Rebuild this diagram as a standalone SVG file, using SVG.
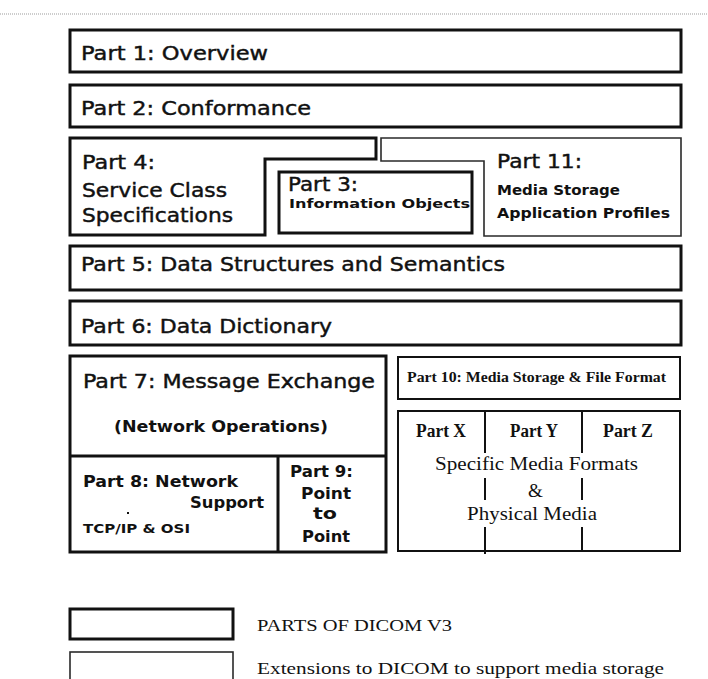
<svg xmlns="http://www.w3.org/2000/svg" width="708" height="679" viewBox="0 0 708 679">
  <style>
    .thick { fill: none; stroke: #111; stroke-width: 3; }
    .thin { fill: none; stroke: #2a2a2a; stroke-width: 1.6; }
    .div { fill: none; stroke: #111; stroke-width: 2; }
    .big { font-family: "DejaVu Sans", "Liberation Sans", sans-serif; font-size: 20px; fill: #111; stroke: #111; stroke-width: 0.45; }
    .sb { font-family: "DejaVu Sans", "Liberation Sans", sans-serif; font-weight: bold; fill: #111; }
    .serif { font-family: "Liberation Serif", "Times New Roman", serif; fill: #111; }
    .serifb { font-family: "Liberation Serif", "Times New Roman", serif; font-weight: bold; fill: #111; }
  </style>
  <rect width="708" height="679" fill="#fff"/>
  <!-- page rule -->
  <line x1="0" y1="14" x2="708" y2="14" stroke="#bdbdbd" stroke-width="1.5" stroke-dasharray="1 1"/>

  <g id="part1">
    <rect class="thick" x="70" y="30" width="611" height="42"/>
    <text class="big" x="81" y="60" textLength="187" lengthAdjust="spacingAndGlyphs">Part 1: Overview</text>
  </g>

  <g id="part2">
    <rect class="thick" x="70" y="85" width="611" height="42"/>
    <text class="big" x="81" y="115" textLength="230" lengthAdjust="spacingAndGlyphs">Part 2: Conformance</text>
  </g>

  <g id="part4">
    <path class="thick" d="M70,138 H376 V159 H265 V235 H70 Z"/>
    <text class="big" x="82" y="169" textLength="73" lengthAdjust="spacingAndGlyphs">Part 4:</text>
    <text class="big" x="82" y="197" textLength="145" lengthAdjust="spacingAndGlyphs">Service Class</text>
    <text class="big" x="82" y="222" textLength="151" lengthAdjust="spacingAndGlyphs">Specifications</text>
  </g>

  <g id="part11">
    <path class="thin" d="M381,161 V138 H681 V236 H484 V161 Z"/>
    <text class="big" x="497" y="168" textLength="85" lengthAdjust="spacingAndGlyphs">Part 11:</text>
    <text class="sb" x="497" y="195" font-size="14" textLength="123" lengthAdjust="spacingAndGlyphs">Media Storage</text>
    <text class="sb" x="497" y="218" font-size="14" textLength="173" lengthAdjust="spacingAndGlyphs">Application Profiles</text>
  </g>

  <g id="part3">
    <rect class="thick" x="279" y="172" width="193" height="61"/>
    <text class="big" x="288" y="191" font-size="18" textLength="70" lengthAdjust="spacingAndGlyphs">Part 3:</text>
    <text class="sb" x="289" y="208" font-size="12" textLength="181" lengthAdjust="spacingAndGlyphs">Information Objects</text>
  </g>

  <g id="part5">
    <rect class="thick" x="70" y="246" width="611" height="44"/>
    <text class="big" x="81" y="271" textLength="424" lengthAdjust="spacingAndGlyphs">Part 5: Data Structures and Semantics</text>
  </g>

  <g id="part6">
    <rect class="thick" x="70" y="301" width="611" height="44"/>
    <text class="big" x="81" y="333" textLength="251" lengthAdjust="spacingAndGlyphs">Part 6: Data Dictionary</text>
  </g>

  <g id="part7">
    <rect class="thick" x="70" y="356" width="316" height="196"/>
    <line class="thick" x1="70" y1="456" x2="386" y2="456"/>
    <text class="big" x="83" y="388" textLength="292" lengthAdjust="spacingAndGlyphs">Part 7: Message Exchange</text>
    <text class="sb" x="114" y="432" font-size="16" textLength="214" lengthAdjust="spacingAndGlyphs">(Network Operations)</text>
  </g>

  <g id="part8">
    <text class="sb" x="83" y="487" font-size="16" textLength="155" lengthAdjust="spacingAndGlyphs">Part 8: Network</text>
    <text class="sb" x="190" y="508" font-size="16" textLength="74" lengthAdjust="spacingAndGlyphs">Support</text>
    <rect x="127" y="512" width="2" height="2" fill="#111"/>
    <text class="sb" x="83" y="533" font-size="12" textLength="107" lengthAdjust="spacingAndGlyphs">TCP/IP &amp; OSI</text>
  </g>

  <g id="part9">
    <line class="thick" x1="278" y1="456" x2="278" y2="552"/>
    <text class="sb" x="290" y="477" font-size="16" textLength="63" lengthAdjust="spacingAndGlyphs">Part 9:</text>
    <text class="sb" x="301" y="499" font-size="16" textLength="50" lengthAdjust="spacingAndGlyphs">Point</text>
    <text class="sb" x="313" y="519" font-size="16" textLength="24" lengthAdjust="spacingAndGlyphs">to</text>
    <text class="sb" x="302" y="542" font-size="16" textLength="48" lengthAdjust="spacingAndGlyphs">Point</text>
  </g>

  <g id="part10">
    <rect class="div" x="398" y="357" width="282" height="42"/>
    <text class="serifb" x="407" y="382" font-size="14" textLength="259" lengthAdjust="spacingAndGlyphs">Part 10: Media Storage &amp; File Format</text>
  </g>

  <g id="media-formats">
    <rect class="div" x="398" y="411" width="282" height="140"/>
    <path class="div" d="M485,411 V453 M485,478 V500 M485,527 V554 M582,411 V453 M582,478 V500 M582,527 V551"/>
    <text class="serifb" x="416" y="437" font-size="18" textLength="50" lengthAdjust="spacingAndGlyphs">Part X</text>
    <text class="serifb" x="510" y="437" font-size="18" textLength="48" lengthAdjust="spacingAndGlyphs">Part Y</text>
    <text class="serifb" x="603" y="437" font-size="18" textLength="50" lengthAdjust="spacingAndGlyphs">Part Z</text>
    <text class="serif" x="435" y="470" font-size="19" textLength="203" lengthAdjust="spacingAndGlyphs">Specific Media Formats</text>
    <text class="serif" x="528" y="497" font-size="19">&amp;</text>
    <text class="serif" x="467" y="520" font-size="19" textLength="130" lengthAdjust="spacingAndGlyphs">Physical Media</text>
  </g>

  <g id="legend">
    <rect class="thick" x="70" y="609" width="163" height="30"/>
    <text class="serif" x="257" y="631" font-size="17" textLength="195" lengthAdjust="spacingAndGlyphs">PARTS OF DICOM V3</text>
    <rect class="thin" x="70" y="652" width="163" height="40"/>
    <text class="serif" x="257" y="674" font-size="17" textLength="407" lengthAdjust="spacingAndGlyphs">Extensions to DICOM to support media storage</text>
  </g>
</svg>
